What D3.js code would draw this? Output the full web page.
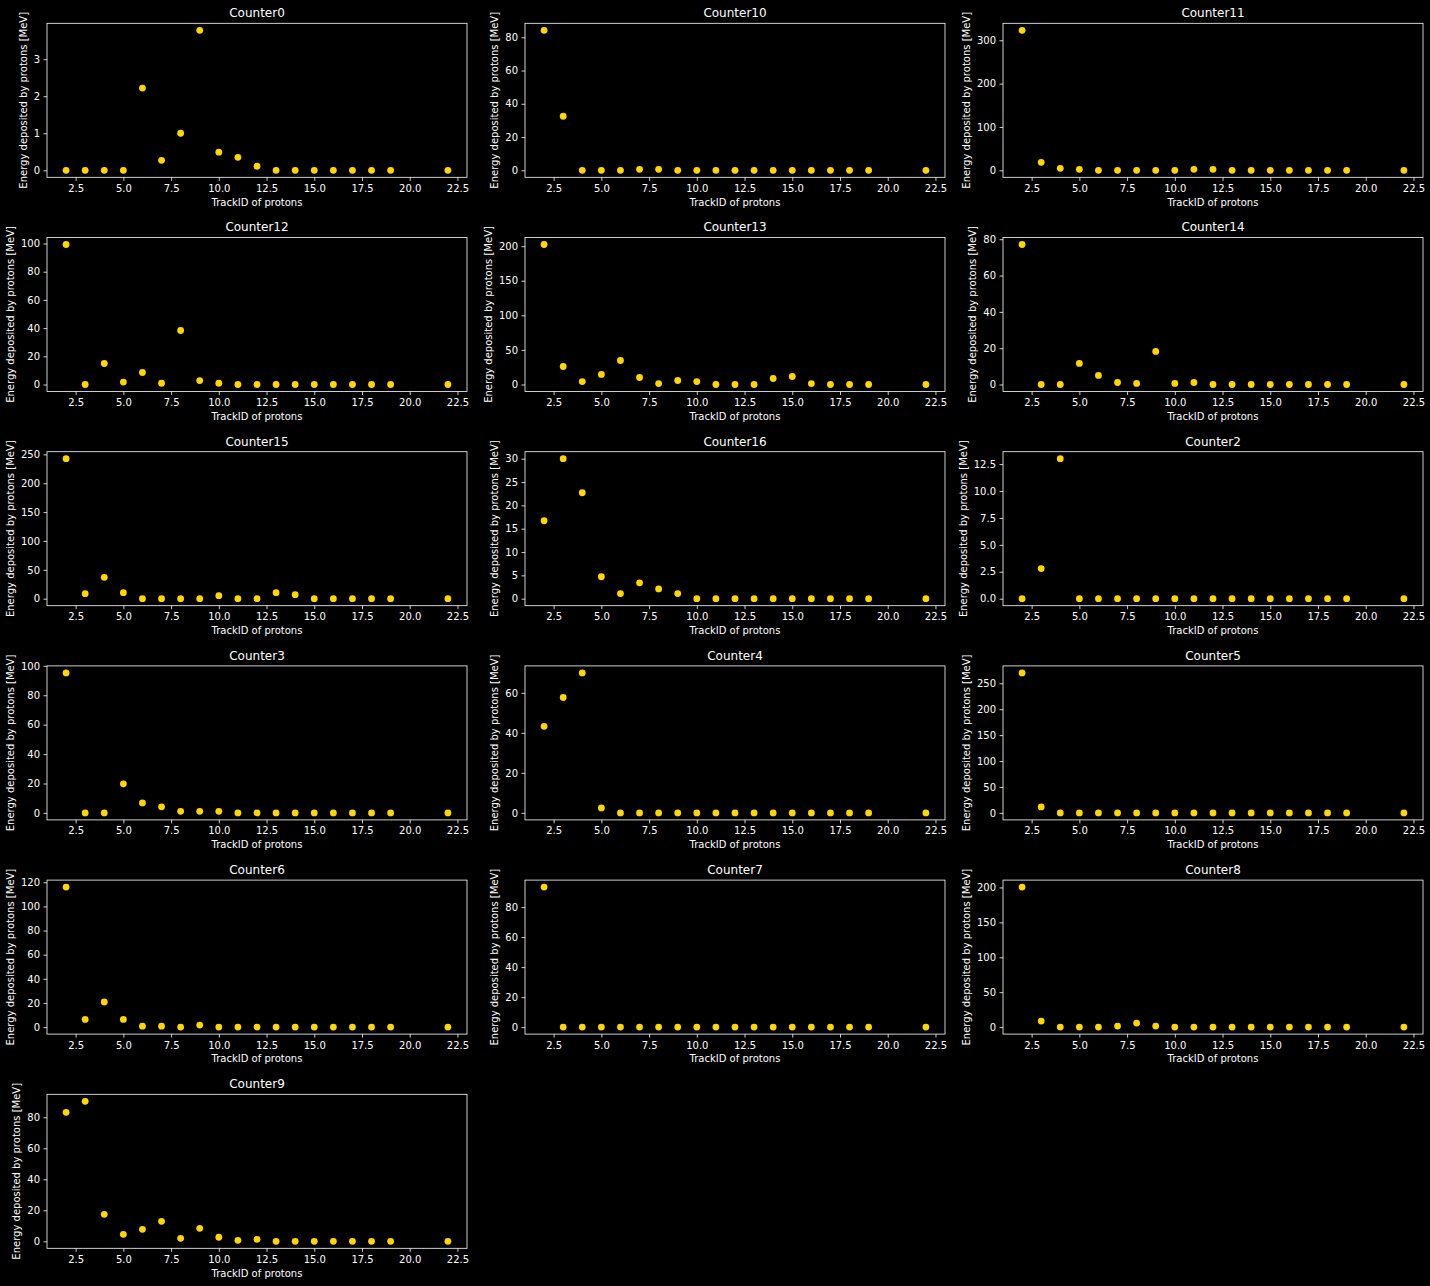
<!DOCTYPE html>
<html>
<head>
<meta charset="utf-8">
<script src="https://cdn.jsdelivr.net/npm/d3@7"></script>
<style>
  html, body { margin: 0; padding: 0; background: #000; }
  svg { display: block; }
  text { font-family: "DejaVu Sans", sans-serif; fill: #fff; }
</style>
</head>
<body>
<svg id="chart" width="1430" height="1286"></svg>
<script>
const trackIds = [2,3,4,5,6,7,8,9,10,11,12,13,14,15,16,17,18,19,22];
const counterNames = ["Counter0","Counter10","Counter11","Counter12","Counter13","Counter14","Counter15","Counter16","Counter2","Counter3","Counter4","Counter5","Counter6","Counter7","Counter8","Counter9"];

const counter0  = [0,0,0,0,2.22,0.27,1.0,3.78,0.49,0.35,0.11,0,0,0,0,0,0,0,0];
const counter10 = [84.2,32.5,0,0,0,0.6,0.6,0,0,0,0,0,0,0,0,0,0,0,0];
const counter11 = [323,18.5,4.6,2.3,0,0,0,0,0,2.3,2.3,0,0,0,0,0,0,0,0];
const counter12 = [99.3,0,14.9,1.7,8.5,0.9,38.3,2.8,0.9,0,0,0,0,0,0,0,0,0,0];
const counter13 = [202.4,26,4.3,14.5,34.7,10.1,1.4,5.8,4.3,0,0,0,8.7,11.6,1.4,0,0,0,0];
const counter14 = [77.1,0,0,11.6,5.0,1.1,0.6,18.2,0.6,1.1,0,0,0,0,0,0,0,0,0];
const counter15 = [242.5,8.7,37,10.4,0,0,0,0,5.2,0,0,10.4,6.9,0,0,0,0,0,0];
const counter16 = [16.7,30,22.7,4.7,1.1,3.4,2.1,1.1,0,0,0,0,0,0,0,0,0,0,0];
const counter2  = [0,2.8,13.0,0,0,0,0,0,0,0,0,0,0,0,0,0,0,0,0];
const counter3  = [95.2,0,0,19.8,6.8,4.1,1.1,1.1,1.1,0,0,0,0,0,0,0,0,0,0];
const counter4  = [43.3,57.7,70.0,2.5,0,0,0,0,0,0,0,0,0,0,0,0,0,0,0];
const counter5  = [270,11.6,0,0,0,0,0,0,0,0,0,0,0,0,0,0,0,0,0];
const counter6  = [116,6.4,20.8,6.4,0.8,0.8,0,1.7,0,0,0,0,0,0,0,0,0,0,0];
const counter7  = [93.3,0,0,0,0,0,0,0,0,0,0,0,0,0,0,0,0,0,0];
const counter8  = [200.5,8.6,0,0,0,1.4,5.7,1.4,0,0,0,0,0,0,0,0,0,0,0];
const counter9  = [83.2,90.3,17.4,4.5,7.7,12.9,1.9,8.4,2.6,0.6,1.3,0,0,0,0,0,0,0,0];

const xTicks = [2.5,5,7.5,10,12.5,15,17.5,20,22.5];
const yTicks0  = [0,1,2,3];
const yTicks10 = [0,20,40,60,80];
const yTicks11 = [0,100,200,300];
const yTicks12 = [0,20,40,60,80,100];
const yTicks13 = [0,50,100,150,200];
const yTicks14 = [0,20,40,60,80];
const yTicks15 = [0,50,100,150,200,250];
const yTicks16 = [0,5,10,15,20,25,30];
const yTicks2  = [0,2.5,5,7.5,10,12.5];
const yTicks3  = [0,20,40,60,80,100];
const yTicks4  = [0,20,40,60];
const yTicks5  = [0,50,100,150,200,250];
const yTicks6  = [0,20,40,60,80,100,120];
const yTicks7  = [0,20,40,60,80];
const yTicks8  = [0,50,100,150,200];
const yTicks9  = [0,20,40,60,80];

const seriesList = [counter0,counter10,counter11,counter12,counter13,counter14,counter15,counter16,counter2,counter3,counter4,counter5,counter6,counter7,counter8,counter9];
const tickList = [yTicks0,yTicks10,yTicks11,yTicks12,yTicks13,yTicks14,yTicks15,yTicks16,yTicks2,yTicks3,yTicks4,yTicks5,yTicks6,yTicks7,yTicks8,yTicks9];
const tickFormats = counterNames.map(n => n === "Counter2" ? ".1f" : "d");

const xLabel = "TrackID of protons";
const yLabel = "Energy deposited by protons [MeV]";

// layout
const axW = 420, axH = 154;
const left0 = 47, colPitch = 478;
const top0 = 23.3, rowPitch = 214.2;
const dotColor = "#FFD700";

const svg = d3.select("#chart");
svg.append("rect").attr("width",1430).attr("height",1286).attr("fill","#000");

counterNames.forEach((name, i) => {
  const col = i % 3, row = Math.floor(i / 3);
  const L = left0 + col * colPitch;
  const T = top0 + row * rowPitch;
  const vals = seriesList[i];
  const ymax = d3.max(vals), ymin = d3.min(vals);
  const pad = (ymax - ymin) * 0.05;

  const x = d3.scaleLinear().domain([1, 23]).range([L, L + axW]);
  const y = d3.scaleLinear().domain([ymin - pad, ymax + pad]).range([T + axH, T]);

  const g = svg.append("g");

  // points
  g.append("g").selectAll("circle")
    .data(trackIds.map((t, k) => ({t, v: vals[k]})))
    .join("circle")
    .attr("cx", d => x(d.t))
    .attr("cy", d => y(d.v))
    .attr("r", 3.4)
    .attr("fill", dotColor);

  // x axis
  const xa = g.append("g").attr("transform", `translate(0,${T + axH})`)
    .call(d3.axisBottom(x).tickValues(xTicks).tickFormat(d3.format(".1f"))
      .tickSize(3.5).tickSizeOuter(0).tickPadding(4));
  xa.select(".domain").remove();
  xa.selectAll("line").attr("stroke", "#fff").attr("stroke-width", 0.8);
  xa.selectAll("text").attr("fill", "#fff").attr("font-size", 10)
    .attr("font-family", '"DejaVu Sans", sans-serif');

  // y axis
  const ya = g.append("g").attr("transform", `translate(${L},0)`)
    .call(d3.axisLeft(y).tickValues(tickList[i]).tickFormat(d3.format(tickFormats[i]))
      .tickSize(3.5).tickSizeOuter(0).tickPadding(3.5));
  ya.select(".domain").remove();
  ya.selectAll("line").attr("stroke", "#fff").attr("stroke-width", 0.8);
  ya.selectAll("text").attr("fill", "#fff").attr("font-size", 10)
    .attr("font-family", '"DejaVu Sans", sans-serif');

  let maxW = 0;
  ya.selectAll("text").each(function() {
    maxW = Math.max(maxW, this.getComputedTextLength());
  });

  // frame
  g.append("rect")
    .attr("x", L).attr("y", T).attr("width", axW).attr("height", axH)
    .attr("fill", "none").attr("stroke", "#fff").attr("stroke-width", 0.8);

  // title
  g.append("text")
    .attr("x", L + axW / 2).attr("y", T - 6.2)
    .attr("text-anchor", "middle").attr("font-size", 12)
    .text(name);

  // x label
  g.append("text")
    .attr("x", L + axW / 2).attr("y", T + axH + 28.3)
    .attr("text-anchor", "middle").attr("font-size", 10)
    .text(xLabel);

  // y label
  const lx = L - 13.8 - maxW;
  g.append("text")
    .attr("transform", `translate(${lx},${T + axH / 2}) rotate(-90)`)
    .attr("text-anchor", "middle").attr("font-size", 10)
    .text(yLabel);
});
</script>
</body>
</html>
